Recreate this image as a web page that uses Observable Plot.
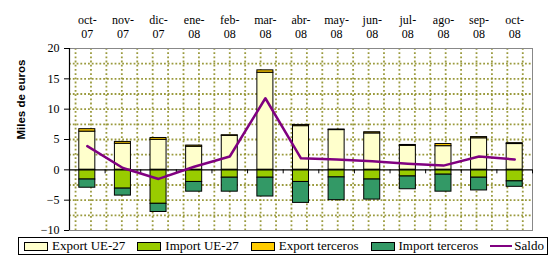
<!DOCTYPE html>
<html><head><meta charset="utf-8">
<script src="https://cdn.jsdelivr.net/npm/d3@7"></script>
<script src="https://cdn.jsdelivr.net/npm/@observablehq/plot@0.6"></script>
<style>
body{margin:0;background:#fff;}
#chart svg{display:block;}
#chart svg text{font-family:"Liberation Serif","Times New Roman",serif;}
#chart svg text.ytitle, #chart svg .ytitle text{font-family:"Liberation Sans",Arial,sans-serif;}
.legend{box-sizing:border-box;margin:1px 0 0 18px;width:530px;height:18px;border:1px solid #000;display:flex;align-items:center;justify-content:space-between;padding:0 3px 0 5px;font-family:"Liberation Serif",serif;font-size:13px;color:#000;}
.legend .it{display:flex;align-items:center;white-space:nowrap;}
.legend .sw{width:22px;height:7px;border:1px solid #000;margin-right:4px;}
.legend .ln{width:22px;height:2px;background:#800080;margin-right:2px;}
</style></head>
<body><div id="chart"></div>
<script>
const meses = ["oct-","nov-","dic-","ene-","feb-","mar-","abr-","may-","jun-","jul-","ago-","sep-","oct-"];
const anios = ["07","07","07","08","08","08","08","08","08","08","08","08","08"];
const exportUE = [6.3,4.3,4.95,3.8,5.6,16.0,7.2,6.55,6.0,3.95,3.9,5.2,4.25];
const exportTerceros = [0.4,0.3,0.3,0.2,0.1,0.4,0.2,0.1,0.2,0.15,0.35,0.2,0.15];
const importUE = [-1.6,-3.1,-5.6,-2.0,-1.3,-1.3,-2.0,-1.25,-1.6,-1.1,-0.8,-1.3,-1.9];
const importTerceros = [-1.35,-1.15,-1.35,-1.6,-2.3,-3.1,-3.45,-3.75,-3.3,-2.1,-2.8,-2.1,-0.9];
const saldo = [3.9,0.3,-1.5,0.5,2.2,11.8,1.9,1.7,1.4,1.0,0.7,2.2,1.7];
const yTicks = [-10,-5,0,5,10,15,20];
const series = ["Export UE-27","Import UE-27","Export terceros","Import terceros"];
const colores = ["#FFFFCC","#99CC00","#FFCC00","#339966"];

const idx = meses.map((_, i) => i);
const segs = [];
idx.forEach(i => {
  segs.push({i, s: series[0], y1: 0, y2: exportUE[i]});
  segs.push({i, s: series[2], y1: exportUE[i], y2: exportUE[i] + exportTerceros[i]});
  segs.push({i, s: series[1], y1: 0, y2: importUE[i]});
  segs.push({i, s: series[3], y1: importUE[i], y2: importUE[i] + importTerceros[i]});
});
const n = meses.length;
const vGrid = d3.range(30).map(k => 0.17 + 0.433 * k);
const hGrid = d3.range(-7.5, 20, 2.5).filter(v => v !== 0);
const half = 0.225;
const serif = "'Liberation Serif', 'Times New Roman', serif";

const chart = Plot.plot({
  width: 558, height: 236,
  marginLeft: 69, marginRight: 26, marginTop: 48, marginBottom: 6,
  style: {fontFamily: serif, fontSize: "12px", color: "#000", background: "#fff"},
  x: {domain: [0, n], axis: null},
  y: {domain: [-10, 20], axis: null},
  color: {domain: series, range: colores},
  marks: [
    Plot.ruleY(hGrid, {y: d => d, stroke: "#8f8f28", strokeWidth: 1.8, strokeDasharray: "1.8,2", strokeOpacity: 0.9}),
    Plot.ruleX(vGrid, {x: d => d, stroke: "#8f8f28", strokeWidth: 1.8, strokeDasharray: "1.8,2.4", strokeOpacity: 0.9}),
    Plot.frame({stroke: "#888", strokeWidth: 1}),
    Plot.rect(segs, {x1: d => d.i + 0.5 - half, x2: d => d.i + 0.5 + half, y1: "y1", y2: "y2", fill: "s", stroke: "#000", strokeWidth: 1}),
    Plot.ruleY([0], {stroke: "#000", strokeWidth: 1.2}),
    Plot.ruleX(d3.range(1, n + 1), {x: d => d, y1: 0, y2: 0, insetTop: 4, stroke: "#000"}),
    Plot.ruleX([0], {stroke: "#000", strokeWidth: 1.2}),
    Plot.axisY({ticks: yTicks, tickSize: 5, tickPadding: 5, label: null, fontSize: 12, fontFamily: serif}),
    Plot.line(idx, {x: i => i + 0.5, y: i => saldo[i], stroke: "#800080", strokeWidth: 2.5}),
    Plot.text(idx, {x: i => i + 0.5, frameAnchor: "top", dy: -33.5, text: i => meses[i], fontSize: 12, fontFamily: serif}),
    Plot.text(idx, {x: i => i + 0.5, frameAnchor: "top", dy: -19, text: i => anios[i], fontSize: 12, fontFamily: serif}),
    Plot.text(["Miles de euros"], {frameAnchor: "left", dx: -48, rotate: -90, fontFamily: "'Liberation Sans', Arial, sans-serif", fontWeight: "bold", fontSize: 11.5, className: "ytitle"})
  ]
});
document.getElementById("chart").appendChild(chart);

const leg = document.createElement("div");
leg.className = "legend";
series.forEach((s, k) => {
  const it = document.createElement("div"); it.className = "it";
  const sw = document.createElement("span"); sw.className = "sw"; sw.style.background = colores[k];
  it.appendChild(sw); it.appendChild(document.createTextNode(s));
  leg.appendChild(it);
});
const it = document.createElement("div"); it.className = "it";
const ln = document.createElement("span"); ln.className = "ln";
it.appendChild(ln); it.appendChild(document.createTextNode("Saldo"));
leg.appendChild(it);
document.body.appendChild(leg);
</script></body></html>
